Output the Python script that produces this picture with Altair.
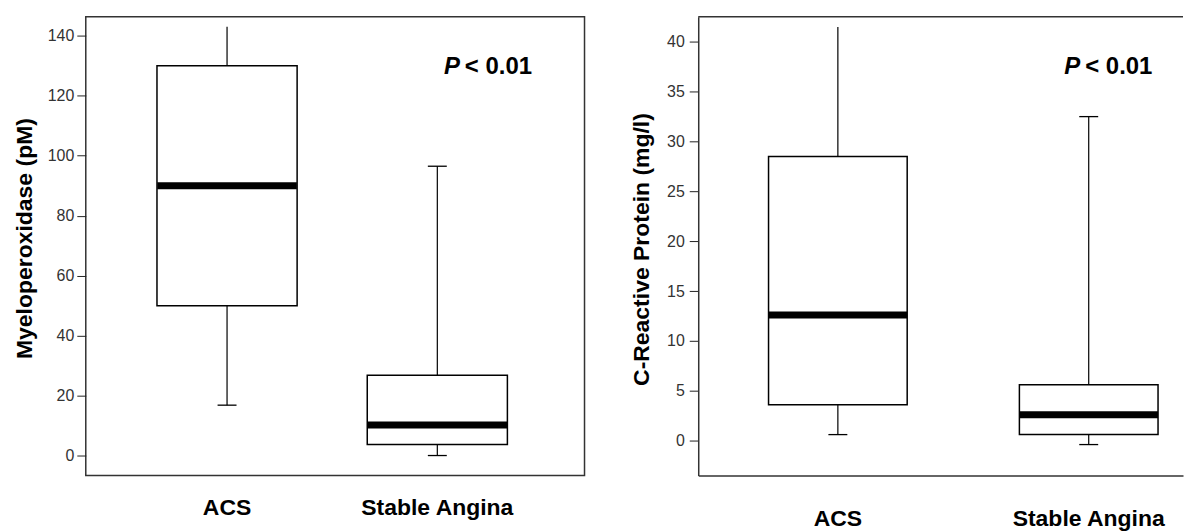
import altair as alt
import pandas as pd

groups = ["ACS", "Stable Angina"]

mpo_min = [16.8, 0.0]
mpo_q1 = [50.0, 3.7]
mpo_med = [90.0, 10.2]
mpo_q3 = [130.0, 26.8]
mpo_max = [143.0, 96.5]

crp_min = [0.6, -0.4]
crp_q1 = [3.6, 0.6]
crp_med = [12.6, 2.6]
crp_q3 = [28.5, 5.6]
crp_max = [41.5, 32.5]

upper_cap = [False, True]

mpo_ticks = [0, 20, 40, 60, 80, 100, 120, 140]
crp_ticks = [0, 5, 10, 15, 20, 25, 30, 35, 40]

p_text = ["P", "< 0.01"]

LABEL_FONT = "Liberation Sans"


def panel(mins, q1s, meds, q3s, maxs, title, ticks, domain, width, box_w,
          pad_in, pad_out, align, label_pad, tick_pad, title_x, title_y, p_x,
          frame):
    df = pd.DataFrame({"group": groups, "lo": mins, "q1": q1s, "med": meds,
                       "q3": q3s, "hi": maxs, "cap": upper_cap})
    xs = alt.Scale(domain=groups, paddingInner=pad_in, paddingOuter=pad_out,
                   align=align)
    ys = alt.Scale(domain=domain, nice=False, zero=False)
    xaxis = alt.Axis(title=None, ticks=False, domain=not frame,
                     domainColor="#333", domainWidth=1.5,
                     labelPadding=label_pad, labelAngle=0,
                     labelFont=LABEL_FONT, labelFontSize=23,
                     labelFontWeight="bold", labelColor="black")
    yaxis = alt.Axis(title=title, values=ticks, grid=False, domain=not frame,
                     domainColor="#333", domainWidth=1.5,
                     tickSize=9, tickColor="#222", tickWidth=1,
                     labelPadding=tick_pad, labelFont=LABEL_FONT,
                     labelFontSize=16, labelColor="#333",
                     titleFont=LABEL_FONT, titleFontSize=23,
                     titleFontWeight="bold", titleColor="black",
                     titleX=title_x, titleY=title_y, titleAngle=-90,
                     titleAlign="center", titleBaseline="middle")
    x = alt.X("group:N", scale=xs, axis=xaxis, sort=groups)
    base = alt.Chart(df)
    lower = base.mark_rule(color="black", strokeWidth=1.2).encode(
        x=x, y=alt.Y("lo:Q", scale=ys, axis=yaxis), y2="q1:Q")
    upper = base.mark_rule(color="black", strokeWidth=1.2).encode(
        x=x, y=alt.Y("q3:Q", scale=ys), y2="hi:Q")
    box = base.mark_bar(fill="white", stroke="black", strokeWidth=1.5).encode(
        x=x, y=alt.Y("q1:Q", scale=ys), y2="q3:Q")
    med = base.mark_tick(color="black", opacity=1, thickness=7, size=box_w,
                         orient="horizontal").encode(
        x=x, y=alt.Y("med:Q", scale=ys))
    lcap = base.mark_tick(color="black", opacity=1, thickness=1.3, size=19,
                          orient="horizontal").encode(
        x=x, y=alt.Y("lo:Q", scale=ys))
    ucap = base.transform_filter("datum.cap").mark_tick(
        color="black", opacity=1, thickness=1.3, size=19,
        orient="horizontal").encode(
        x=x, y=alt.Y("hi:Q", scale=ys))
    pdf = pd.DataFrame({"t": [p_text[0]]})
    ptxt1 = alt.Chart(pdf).mark_text(
        font=LABEL_FONT, fontSize=24, fontWeight="bold", fontStyle="italic",
        align="left", baseline="middle", color="black").encode(
        text="t:N", x=alt.value(p_x), y=alt.value(51))
    pdf2 = pd.DataFrame({"t": [p_text[1]]})
    ptxt2 = alt.Chart(pdf2).mark_text(
        font=LABEL_FONT, fontSize=24, fontWeight="bold",
        align="left", baseline="middle", color="black").encode(
        text="t:N", x=alt.value(p_x + 21), y=alt.value(51))
    layers = [lower, upper, box, med, lcap, ucap, ptxt1, ptxt2]
    if not frame:
        topline = alt.Chart(pd.DataFrame({"t": [p_text[0]]})).mark_rule(
            color="#333", strokeWidth=1.5).encode(
            x=alt.value(0), x2=alt.value(width), y=alt.value(0))
        layers.append(topline)
    ch = alt.layer(*layers).properties(width=width, height=460)
    if frame:
        ch = ch.properties(view=alt.ViewBackground(stroke="#333",
                                                   strokeWidth=1.5))
    else:
        ch = ch.properties(view=alt.ViewBackground(strokeOpacity=0))
    return ch


left = panel(mpo_min, mpo_q1, mpo_med, mpo_q3, mpo_max,
             "Myeloperoxidase (pM)", mpo_ticks, [-6.65, 146.4], 500, 140,
             0.3335, 0.3527, 0.48, 21, 3, -61.5, 222, 359, True)
right = panel(crp_min, crp_q1, crp_med, crp_q3, crp_max,
              "C-Reactive Protein (mg/l)", crp_ticks, [-3.5, 42.53], 486,
              139, 0.4473, 0.1899, 0.738, 32, 5, -56.6, 233, 367, False)

chart = alt.hconcat(left, right, spacing=45).properties(
    padding={"left": 12, "top": 15, "right": 0, "bottom": 0},
    background="white")

chart.save("out.html", embed_options={"renderer": "svg", "actions": False})
